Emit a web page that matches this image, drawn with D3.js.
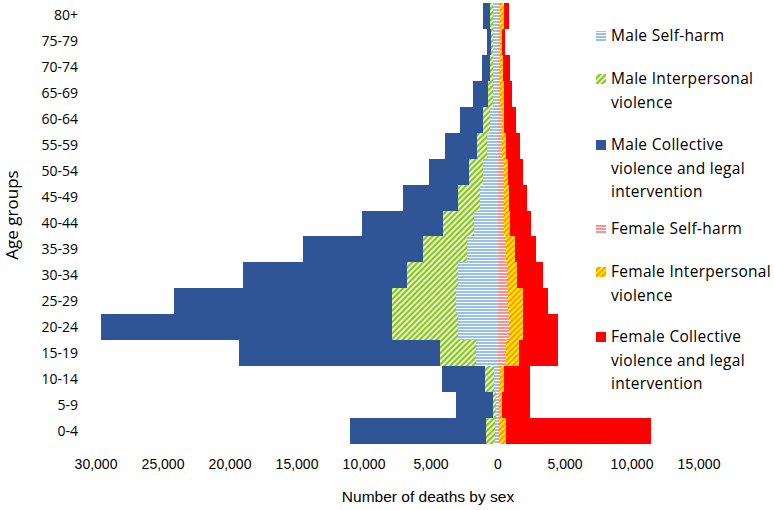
<!DOCTYPE html>
<html>
<head>
<meta charset="utf-8">
<script src="https://cdn.jsdelivr.net/npm/d3@7"></script>
<style>
	body { margin: 0; background: #fff; }
	svg text { fill: #000; }
</style>
</head>
<body>
<svg id="chart" width="774" height="510"></svg>
<script>
// age groups, top to bottom
const ageGroups = ['80+', '75-79', '70-74', '65-69', '60-64', '55-59', '50-54', '45-49', '40-44',
	'35-39', '30-34', '25-29', '20-24', '15-19', '10-14', '5-9', '0-4'];

// deaths per cause, same order as ageGroups
const maleSelfHarm = [310, 310, 310, 360, 560, 760, 1060, 1310, 1730, 2300, 2930, 3100, 2930, 1600, 260, 110, 150];
const maleInterpersonal = [250, 200, 250, 330, 500, 750, 1040, 1620, 2310, 3280, 3850, 4800, 4970, 2690, 670, 250, 740];
const maleCollective = [520, 300, 620, 1120, 1740, 2410, 3010, 4130, 6070, 8930, 12220, 16250, 21690, 15000, 3230, 2740, 10150];
const femaleSelfHarm = [220, 190, 220, 220, 300, 370, 450, 490, 520, 630, 710, 820, 860, 670, 150, 110, 80];
const femaleInterpersonal = [230, 180, 190, 230, 220, 230, 300, 370, 450, 710, 710, 1080, 1080, 900, 300, 230, 590];
const femaleCollective = [410, 220, 490, 600, 860, 1080, 1190, 1310, 1530, 1570, 1980, 1900, 2540, 2910, 1980, 2090, 10820];

const xTicks = [-30000, -25000, -20000, -15000, -10000, -5000, 0, 5000, 10000, 15000];

const legendItems = [
	{ lines: ['Male Self-harm'], fill: 'url(#p-male-sh)' },
	{ lines: ['Male Interpersonal', 'violence'], fill: 'url(#p-male-ip)' },
	{ lines: ['Male Collective', 'violence and legal', 'intervention'], fill: '#2f5597' },
	{ lines: ['Female Self-harm'], fill: 'url(#p-fem-sh)' },
	{ lines: ['Female Interpersonal', 'violence'], fill: 'url(#p-fem-ip)' },
	{ lines: ['Female Collective', 'violence and legal', 'intervention'], fill: '#ff0000' }
];
const legendY = [36, 79, 145, 229, 272, 337];

const svg = d3.select('#chart');
const defs = svg.append('defs');

function hStripes(id, color) {
	const p = defs.append('pattern').attr('id', id)
		.attr('patternUnits', 'userSpaceOnUse').attr('width', 4).attr('height', 3);
	p.append('rect').attr('width', 4).attr('height', 3).attr('fill', '#ffffff');
	p.append('rect').attr('width', 4).attr('height', 2).attr('fill', color);
}
function diagStripes(id, c1, c2) {
	const p = defs.append('pattern').attr('id', id)
		.attr('patternUnits', 'userSpaceOnUse').attr('width', 4).attr('height', 4)
		.attr('patternTransform', 'rotate(45)');
	p.append('rect').attr('width', 4).attr('height', 4).attr('fill', c2);
	p.append('rect').attr('width', 2).attr('height', 4).attr('fill', c1);
}
hStripes('p-male-sh', '#96c0e8');
hStripes('p-fem-sh', '#ff8f8f');
diagStripes('p-male-ip', '#86c23a', '#eaf5b0');
diagStripes('p-fem-ip', '#ff9900', '#ffee00');

const x = d3.scaleLinear().domain([-30000, 15000]).range([95.5, 698.5]);
const y = d3.scaleBand().domain(ageGroups).range([3, 444]).padding(0);

const maleSeries = [
	{ vals: maleSelfHarm, fill: 'url(#p-male-sh)' },
	{ vals: maleInterpersonal, fill: 'url(#p-male-ip)' },
	{ vals: maleCollective, fill: '#2f5597' }
];
const femaleSeries = [
	{ vals: femaleSelfHarm, fill: 'url(#p-fem-sh)' },
	{ vals: femaleInterpersonal, fill: 'url(#p-fem-ip)' },
	{ vals: femaleCollective, fill: '#ff0000' }
];

function stackRects(series, sign) {
	const out = [];
	ageGroups.forEach((age, i) => {
		let cum = 0;
		series.forEach(s => {
			const a = cum, b = cum + s.vals[i];
			cum = b;
			out.push({ age, x0: sign * a, x1: sign * b, fill: s.fill });
		});
	});
	return out;
}
const rects = stackRects(maleSeries, -1).concat(stackRects(femaleSeries, 1));

svg.append('g').selectAll('rect')
	.data(rects)
	.join('rect')
	.attr('x', d => x(Math.min(d.x0, d.x1)))
	.attr('width', d => Math.abs(x(d.x1) - x(d.x0)))
	.attr('y', d => y(d.age))
	.attr('height', y.bandwidth())
	.attr('fill', d => d.fill)
	.attr('shape-rendering', 'crispEdges');

// x axis
const fmt = d3.format(',');
const xAxisG = svg.append('g').attr('transform', 'translate(0,459)')
	.call(d3.axisBottom(x).tickValues(xTicks).tickSize(0).tickFormat(d => fmt(Math.abs(d))));
xAxisG.select('.domain').remove();
xAxisG.selectAll('text')
	.attr('font-family', 'Liberation Sans, Arial, sans-serif')
	.attr('font-size', 14).attr('dy', '0.71em').attr('y', 0);

// y axis labels
const yAxisG = svg.append('g').attr('transform', 'translate(78,0)')
	.call(d3.axisLeft(y).tickSize(0).tickPadding(0));
yAxisG.select('.domain').remove();
yAxisG.selectAll('text')
	.attr('font-family', 'Open Sans, sans-serif')
	.attr('font-size', 14);

svg.append('text')
	.attr('x', 428).attr('y', 502)
	.attr('text-anchor', 'middle')
	.attr('font-family', 'Liberation Sans, Arial, sans-serif')
	.attr('font-size', 15.5)
	.text('Number of deaths by sex');

svg.append('text')
	.attr('transform', 'translate(18,215) rotate(-90)')
	.attr('text-anchor', 'middle')
	.attr('font-family', 'Open Sans, sans-serif')
	.attr('font-size', 17)
	.text('Age groups');

// legend
const lg = svg.append('g');
legendItems.forEach((item, i) => {
	const cy = legendY[i];
	lg.append('rect')
		.attr('x', 596).attr('y', cy - 5).attr('width', 10).attr('height', 10)
		.attr('fill', item.fill);
	item.lines.forEach((ln, j) => {
		lg.append('text')
			.attr('x', 611).attr('y', cy + j * 23.5)
			.attr('dy', '0.35em')
			.attr('font-family', 'Open Sans, sans-serif')
			.attr('font-size', 15.5)
			.attr('letter-spacing', 0.3)
			.text(ln);
	});
});
</script>
</body>
</html>
